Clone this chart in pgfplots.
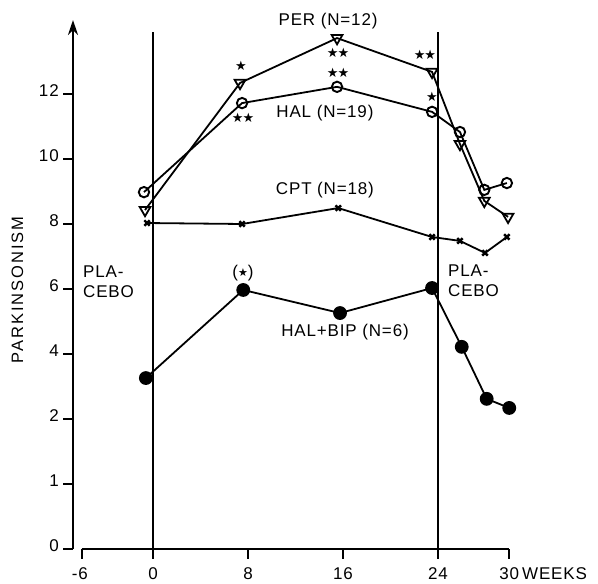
\documentclass[border=0pt]{standalone}
\usepackage{fontspec}
\setmainfont{Liberation Sans}[LetterSpace=5]
\newfontfamily\sym{DejaVu Sans}
\usepackage{pgfplots}
\usepackage{pgfplotstable}
\pgfplotsset{compat=1.18}
\usetikzlibrary{arrows.meta}
% PARKINSONISM scale: 0,1,2 then 4,6,...,12 -- evenly spaced ticks
\pgfplotsset{table/pk/.style={y expr={ifthenelse(\thisrow{y}<2, \thisrow{y}, 1+\thisrow{y}/2)}}}
\pgfplotstableread{
x y
-0.76 8.98
7.5 11.72
15.5 12.22
23.5 11.45
25.85 10.83
27.9 9.05
29.8 9.26
}\hal
\pgfplotstableread{
x y
-0.67 8.43
7.33 12.34
15.5 13.72
23.5 12.68
25.85 10.46
27.9 8.71
29.9 8.22
}\per
\pgfplotstableread{
x y
-0.5 8.03
7.5 8.0
15.6 8.49
23.5 7.6
25.85 7.48
27.96 7.11
29.8 7.6
}\cpt
\pgfplotstableread{
x y
-0.6 3.26
7.6 5.97
15.75 5.26
23.5 6.03
26.0 4.22
28.1 2.62
30.0 2.34
}\halbip
\pgfplotstableread{
x y
7.41 12.86
23.5 11.91
}\onestar
\pgfplotstableread{
x y
15.58 13.26
15.58 12.65
7.58 11.26
22.9 13.2
}\twostar
\pgfplotstableread{
x y
7.58 6.49
}\parstar
\begin{document}
\begin{tikzpicture}[lab/.style={font=\fontsize{17}{20}\selectfont, inner sep=0pt}]
\begin{axis}[hide axis, scale only axis, width=598pt, height=583pt,
  xmin=-12.884, xmax=37.474, ymin=-0.523, ymax=8.446, clip=false]
\path (rel axis cs:0,0) rectangle (rel axis cs:1,1);
% axes
\draw[line width=2pt, -{Stealth[length=15pt,width=10pt]}] (axis cs:-6.737,0) -- (axis cs:-6.737,8.138);
\pgfplotsinvokeforeach{0,1,2,3,4,5,6,7}{
  \draw[line width=1.8pt] (axis cs:-6.737,#1) -- (axis cs:-7.58,#1);
}
\node[lab, anchor=mid east] at (axis cs:-7.92,0) {0};
\node[lab, anchor=mid east] at (axis cs:-7.92,1) {1};
\node[lab, anchor=mid east] at (axis cs:-7.92,2) {2};
\node[lab, anchor=mid east] at (axis cs:-7.92,3) {4};
\node[lab, anchor=mid east] at (axis cs:-7.92,4) {6};
\node[lab, anchor=mid east] at (axis cs:-7.92,5) {8};
\node[lab, anchor=mid east] at (axis cs:-7.92,6) {10};
\node[lab, anchor=mid east] at (axis cs:-7.92,7) {12};
\draw[line width=2pt] (axis cs:-6,0) -- (axis cs:30,0);
\pgfplotsinvokeforeach{-6,0,8,16,24,30}{
  \draw[line width=1.8pt] (axis cs:#1,0) -- (axis cs:#1,-0.154);
}
\node[lab, anchor=base east] at (axis cs:-5.47,-0.47) {-6};
\pgfplotsinvokeforeach{0,8,16,24,30}{
  \node[lab, anchor=base] at (axis cs:#1,-0.47) {#1};
}
\node[lab, anchor=base west] at (axis cs:31.07,-0.47) {WEEKS};
\draw[line width=1.9pt] (axis cs:0,0) -- (axis cs:0,7.954);
\draw[line width=1.9pt] (axis cs:24,0) -- (axis cs:24,7.954);
% labels
\node[lab] at (axis cs:14.74,8.123) {PER (N=12)};
\node[lab] at (axis cs:14.48,6.708) {HAL (N=19)};
\node[lab] at (axis cs:14.48,5.523) {CPT (N=18)};
\node[lab] at (axis cs:16.17,3.338) {HAL+BIP (N=6)};
\node[lab, anchor=west, align=left] at (axis cs:-5.895,4.115) {PLA-\\CEBO};
\node[lab, anchor=west, align=left] at (axis cs:24.84,4.13) {PLA-\\CEBO};
\node[lab, rotate=90, font=\fontsize{16.5}{20}\selectfont\addfontfeatures{LetterSpace=12}] at (axis cs:-11.41,3.985) {PARKINSONISM};
% data
\addplot[black, line width=1.8pt, mark=o, mark size=5.2pt, mark options={fill=white, line width=1.9pt}] table[pk] {\hal};
\addplot[black, line width=1.8pt, mark=triangle, mark size=6.2pt, mark options={fill=white, rotate=180, line width=1.8pt}] table[pk] {\per};
\addplot[black, line width=1.8pt, mark=x, mark size=3.8pt, mark options={line width=2.4pt}] table[pk] {\cpt};
\addplot[black, line width=1.8pt, mark=*, mark size=6pt] table[pk] {\halbip};
% significance stars
\addplot[only marks, mark=text, text mark={\sym\fontsize{13}{13}\selectfont ★}] table[pk] {\onestar};
\addplot[only marks, mark=text, text mark={\sym\fontsize{13}{13}\selectfont ★\kern-1pt★}] table[pk] {\twostar};
\addplot[only marks, mark=text, text mark={\fontsize{17}{17}\selectfont(\raisebox{1pt}{\sym\fontsize{11}{11}\selectfont ★})}] table[pk] {\parstar};
\end{axis}
\end{tikzpicture}
\end{document}
